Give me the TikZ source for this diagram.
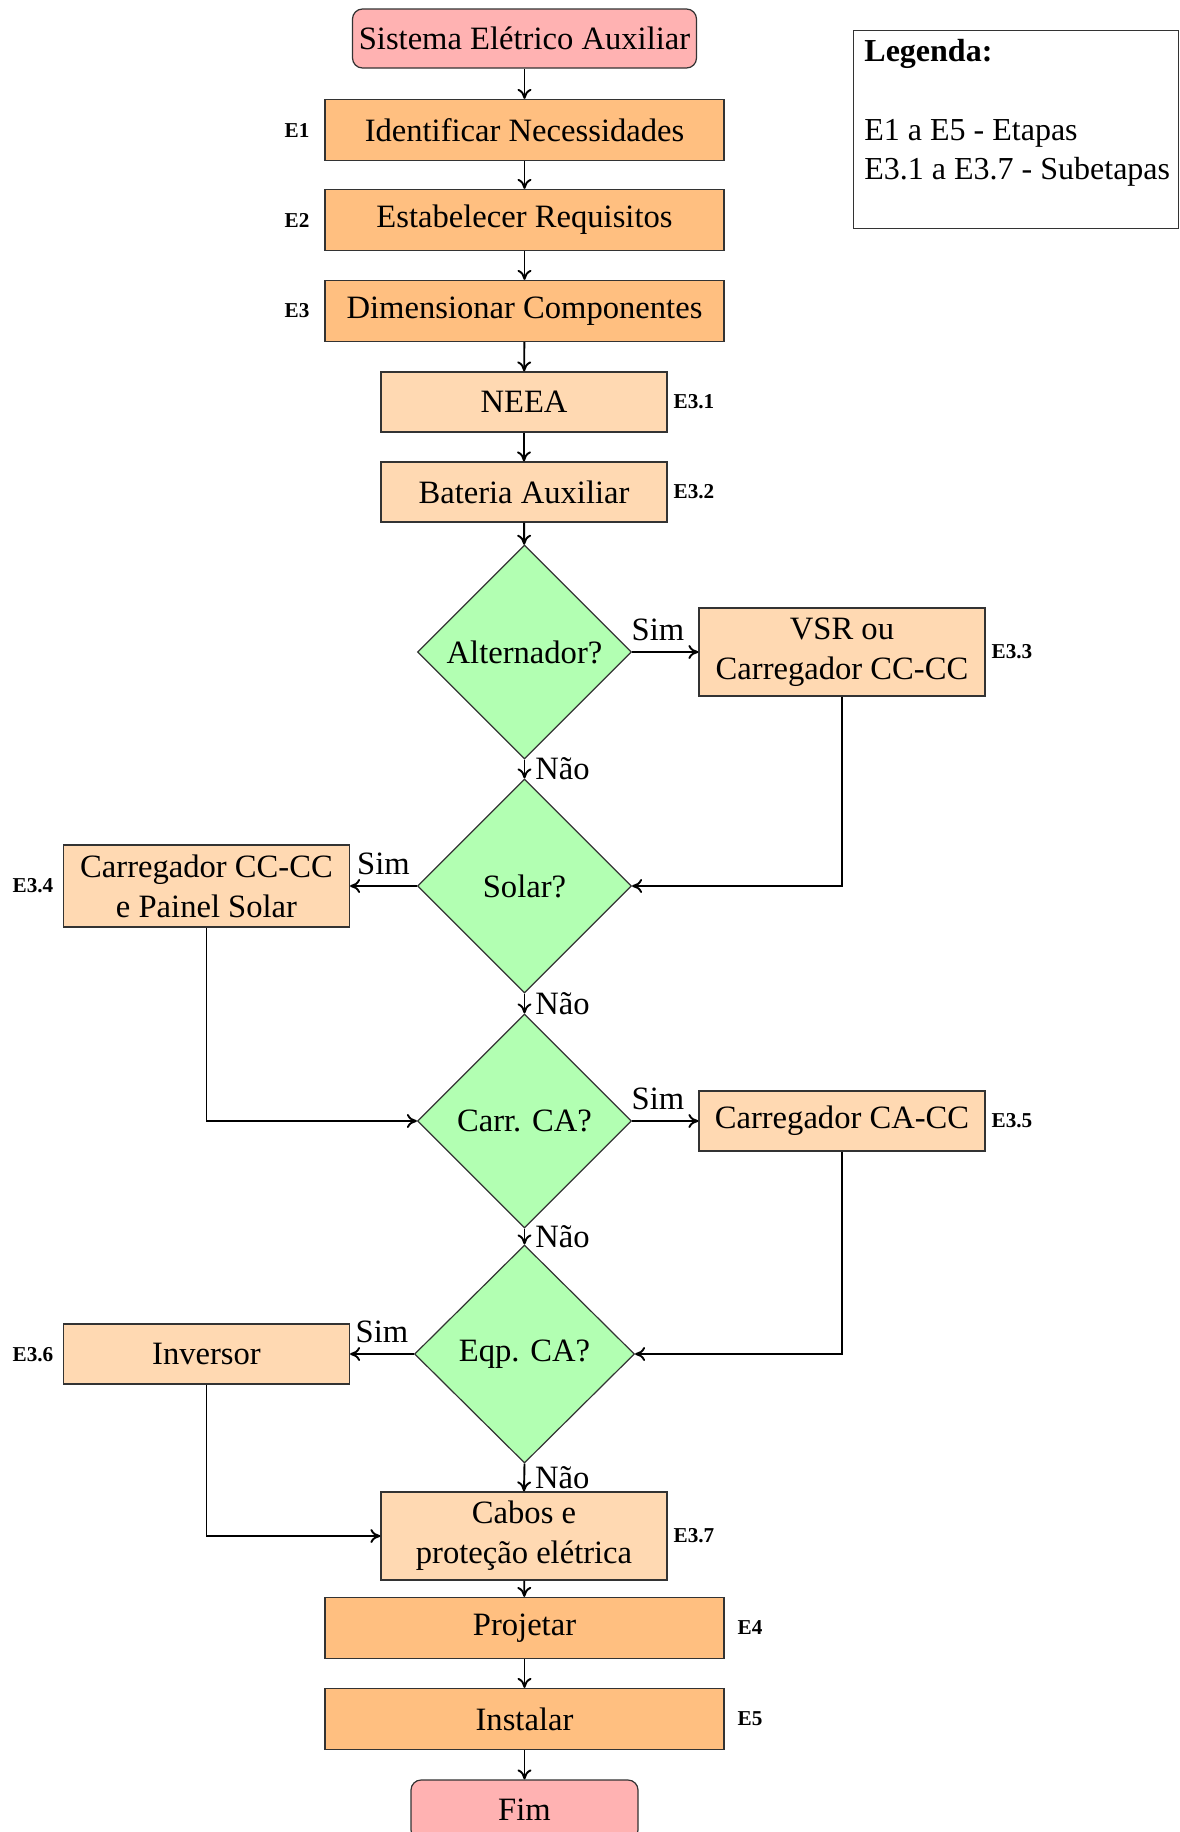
\documentclass[tikz,border=0pt]{standalone}
\usepackage{fontspec}
\setmainfont{Liberation Serif}
\usetikzlibrary{shapes.geometric,calc,arrows.meta}
\begin{document}
\begin{tikzpicture}[x=0.5pt,y=-0.5pt,
  font=\fontsize{16.3}{20}\selectfont,
  every node/.style={inner sep=0pt},
  term/.style={draw=black!80, line width=0.6pt, fill=red!30, rounded corners=5pt, minimum height=29.5pt, align=center},
  etapa/.style={draw=black!80, line width=0.6pt, fill=orange!50, minimum width=199.5pt, minimum height=30.5pt, align=center},
  sub/.style={draw=black!80, line width=0.6pt, fill=orange!30, minimum width=143pt, minimum height=30pt, align=center},
  decis/.style={draw=black!80, line width=0.6pt, fill=green!30, diamond, aspect=1, minimum width=107pt, minimum height=107pt, align=center},
  tag/.style={font=\fontsize{10.6}{12}\selectfont\bfseries},
  arr/.style={-{To[length=5pt,width=7pt]}, line width=0.95pt},
  simlab/.style={inner sep=0pt, above, yshift=5pt},
  naolab/.style={inner sep=0pt, right, xshift=5pt}
]
\useasboundingbox (0,0) rectangle (1179,1832);

% nodes
\node[term, minimum width=172pt] (start) at (524.5,38.5) {Sistema Elétrico Auxiliar};
\node[etapa] (e1) at (524.5,130) {Identificar Necessidades};
\node[etapa] (e2) at (524.5,220) {Estabelecer Requisitos};
\node[etapa] (e3) at (524.5,311) {Dimensionar Componentes};
\node[sub] (neea) at (524,402) {NEEA};
\node[sub] (bat) at (524,492) {Bateria Auxiliar};
\node[decis] (alt) at (524.5,652) {Alternador?};
\node[sub, minimum height=44pt] (vsr) at (842,652) {VSR ou\\Carregador CC-CC};
\node[decis] (solar) at (524.5,886) {Solar?};
\node[sub, minimum height=41pt] (e34) at (206.5,886) {Carregador CC-CC\\e Painel Solar};
\node[decis] (carr) at (524.5,1121) {Carr. CA?};
\node[sub] (cacc) at (842,1121) {Carregador CA-CC};
\node[decis, minimum width=110pt, minimum height=109pt] (eqp) at (524.5,1354) {Eqp. CA?};
\node[sub] (inv) at (206.5,1354) {Inversor};
\node[sub, minimum height=44pt] (cabos) at (524,1536) {Cabos e\\proteção elétrica};
\node[etapa] (proj) at (524.5,1628) {Projetar};
\node[etapa] (inst) at (524.5,1719) {Instalar};
\node[term, minimum width=113.5pt, minimum height=30pt] (fim) at (524.5,1810) {Fim};

% tags
\node[tag] (t1) at (297,130) {E1};
\node[tag] (t2) at (297,220) {E2};
\node[tag] (t3) at (297,311) {E3};
\node[tag] (t31) at (694,402) {E3.1};
\node[tag] (t32) at (694,492) {E3.2};
\node[tag] (t33) at (1012,652) {E3.3};
\node[tag] (t34) at (33,886) {E3.4};
\node[tag] (t35) at (1012,1121) {E3.5};
\node[tag] (t36) at (33,1355) {E3.6};
\node[tag] (t37) at (694,1536) {E3.7};
\node[tag] (t4) at (750,1628) {E4};
\node[tag] (t5) at (750,1719) {E5};

% legend
\node[draw=black!80, line width=0.6pt, minimum width=162.5pt, minimum height=99pt, anchor=north west] (leg) at (853,30) {};
\node[anchor=north west, align=left, font=\fontsize{16}{19.6}\selectfont] (legtxt) at ($(leg.north west)+(11,9)$) {\textbf{Legenda:}\\[\baselineskip]E1 a E5 - Etapas\\E3.1 a E3.7 - Subetapas};

% connectors
\draw[arr] (start) -- (e1);
\draw[arr] (e1) -- (e2);
\draw[arr] (e2) -- (e3);
\draw[arr] (e3) -- (neea);
\draw[arr] (neea) -- (bat);
\draw[arr] (bat) -- (alt);
\draw[arr] (alt.east) -- node[simlab, pos=0.39] {Sim} (vsr.west);
\draw[arr] (alt.south) -- node[naolab, midway] {Não} (solar.north);
\draw[arr] (vsr.south) |- (solar.east);
\draw[arr] (solar.west) -- node[simlab, midway] {Sim} (e34.east);
\draw[arr] (solar.south) -- node[naolab, midway] {Não} (carr.north);
\draw[arr] (e34.south) |- (carr.west);
\draw[arr] (carr.east) -- node[simlab, pos=0.39] {Sim} (cacc.west);
\draw[arr] (carr.south) -- node[naolab, midway] {Não} (eqp.north);
\draw[arr] (cacc.south) |- (eqp.east);
\draw[arr] (eqp.west) -- node[simlab, midway] {Sim} (inv.east);
\draw[arr] (eqp.south) -- node[naolab, midway] {Não} (cabos.north);
\draw[arr] (inv.south) |- (cabos.west);
\draw[arr] (cabos) -- (proj);
\draw[arr] (proj) -- (inst);
\draw[arr] (inst) -- (fim);
\end{tikzpicture}
\end{document}
